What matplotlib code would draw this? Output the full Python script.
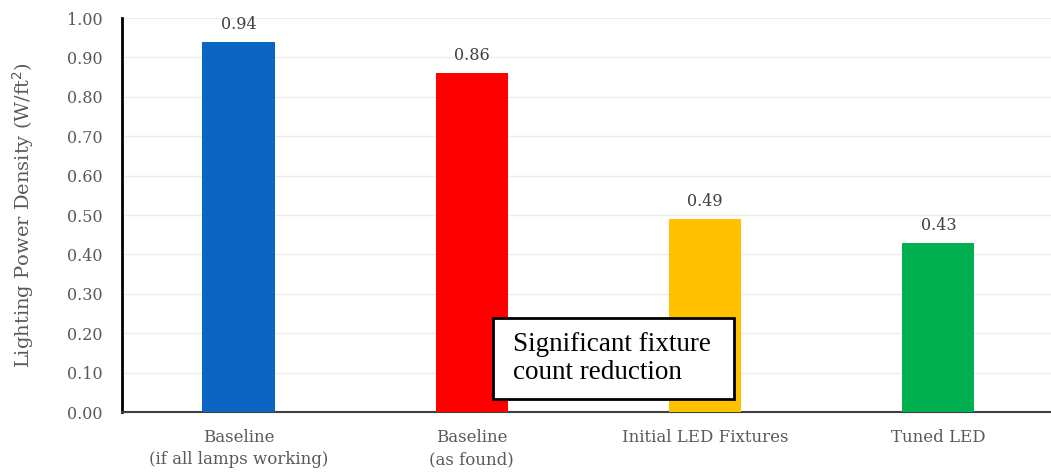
import matplotlib.pyplot as plt
from matplotlib.patches import Rectangle

categories = ["Baseline\n(if all lamps working)", "Baseline\n(as found)",
              "Initial LED Fixtures", "Tuned LED"]
lpd_values = [0.94, 0.86, 0.49, 0.43]
bar_colors = ["#0a66c2", "#ff0000", "#ffc000", "#00b050"]
y_ticks = [0.0, 0.1, 0.2, 0.3, 0.4, 0.5, 0.6, 0.7, 0.8, 0.9, 1.0]

plt.rcParams["font.family"] = ["DejaVu Serif"]
grey = "#595959"

fig = plt.figure(figsize=(10.51, 4.75), dpi=100)
ax = fig.add_axes([0.116, 0.1326, 0.89, 0.8295])

x = range(len(categories))
ax.bar(x, lpd_values, width=0.31, color=bar_colors, zorder=3)
for xi, v in zip(x, lpd_values):
    ax.text(xi, v + 0.022, f"{v:.2f}", ha="center", va="bottom",
            fontsize=11.5, color="#404040")

ax.set_xlim(-0.5, 3.51)
ax.set_ylim(0, 1.0)
ax.set_yticks(y_ticks)
ax.set_yticklabels([f"{t:.2f}" for t in y_ticks])
ax.set_xticks(list(x))
ax.set_xticklabels(categories, linespacing=1.4)
ax.tick_params(axis="both", length=0, labelsize=11.5, colors=grey, pad=14)
ax.tick_params(axis="x", labelsize=12, pad=12)
ax.grid(axis="y", color="#ececec", linewidth=1, zorder=0)
ax.set_ylabel("Lighting Power Density (W/ft$^2$)", fontsize=14, color=grey, labelpad=22)

for side in ["top", "right"]:
    ax.spines[side].set_visible(False)
ax.spines["left"].set_color("black")
ax.spines["left"].set_linewidth(2)
ax.spines["bottom"].set_color("#404040")
ax.spines["bottom"].set_linewidth(1.5)

# callout box over the middle bars
ax.add_patch(Rectangle((1.092, 0.033), 1.03, 0.206, facecolor="white",
                       edgecolor="black", linewidth=2, zorder=4))
ax.text(1.178, 0.135, "Significant fixture\ncount reduction", ha="left", va="center",
        fontsize=19.5, color="black", linespacing=1.15, zorder=5,
        family="Liberation Serif")

fig.savefig("out.png", dpi=100)
